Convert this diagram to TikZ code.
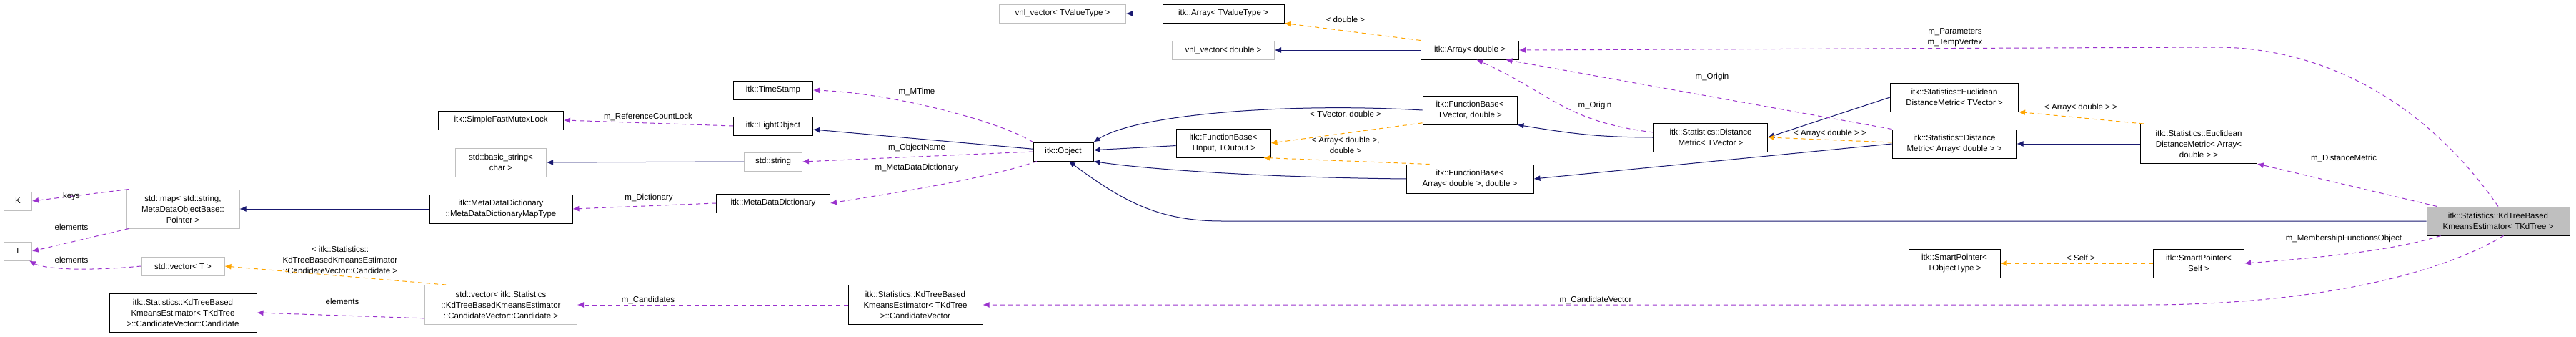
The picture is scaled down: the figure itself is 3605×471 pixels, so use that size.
\documentclass[tikz,border=0pt]{standalone}
\usepackage{fontspec}
\setmainfont{Liberation Sans}
\usetikzlibrary{arrows.meta}

\begin{document}
\begin{tikzpicture}[x=1pt, y=-1pt, font=\fontsize{11.5}{15}\selectfont]
        \tikzstyle{cls} = [draw=black, line width=1pt, rectangle, inner sep=0pt, align=center]
        \tikzstyle{ext} = [cls, draw=black!25]
        \tikzstyle{inherit} = [-{Latex[length=9pt,width=8pt]}, line width=1pt, color={rgb,255:red,25;green,25;blue,112}]
        \tikzstyle{templ} = [-{Latex[length=9pt,width=8pt]}, dash pattern=on 6pt off 5pt, line width=1pt, color={rgb,255:red,255;green,165;blue,0}]
        \tikzstyle{usage} = [-{Latex[length=9pt,width=8pt]}, dash pattern=on 6pt off 5pt, line width=1pt, color={rgb,255:red,154;green,50;blue,205}]
        \tikzstyle{lbl} = [align=center, inner sep=0pt]
        \useasboundingbox (0,0) rectangle (3605,471);
        % left part
        \node[ext, minimum width=39pt, minimum height=26pt] (K) at (25,281) {K};
        \node[ext, minimum width=39pt, minimum height=26pt] (T) at (25,351) {T};
        \node[ext, minimum width=158pt, minimum height=54pt] (map) at (256,292) {std::map< std::string,\\ MetaDataObjectBase::\\Pointer >};
        \node[ext, minimum width=116pt, minimum height=26pt] (vecT) at (256,372) {std::vector< T >};
        \node[cls, minimum width=206pt, minimum height=54pt] (cand) at (256,437) {itk::Statistics::KdTreeBased\\KmeansEstimator< TKdTree\\>::CandidateVector::Candidate};
        \node[cls, minimum width=175pt, minimum height=26pt] (mutex) at (701,168) {itk::SimpleFastMutexLock};
        \node[ext, minimum width=127pt, minimum height=40pt] (bstr) at (701,227) {std::basic\_string<\\char >};
        \node[cls, minimum width=200pt, minimum height=40pt] (maptype) at (701,292) {itk::MetaDataDictionary\\::MetaDataDictionaryMapType};
        \node[ext, minimum width=213pt, minimum height=55pt] (veccand) at (701,426) {std::vector< itk::Statistics\\::KdTreeBasedKmeansEstimator\\::CandidateVector::Candidate >};
        \node[cls, minimum width=111pt, minimum height=26pt] (tstamp) at (1082,126) {itk::TimeStamp};
        \node[cls, minimum width=111pt, minimum height=26pt] (light) at (1082,176) {itk::LightObject};
        \node[ext, minimum width=81pt, minimum height=26pt] (sstr) at (1082,226) {std::string};
        \node[cls, minimum width=159pt, minimum height=26pt] (mdd) at (1082,284) {itk::MetaDataDictionary};
        \node[cls, minimum width=188pt, minimum height=55pt] (candvec) at (1281,426) {itk::Statistics::KdTreeBased\\KmeansEstimator< TKdTree\\>::CandidateVector};
        \node[cls, minimum width=84pt, minimum height=26pt] (object) at (1488,212) {itk::Object};
        % middle part
        \node[ext, minimum width=177pt, minimum height=26pt] (vnlT) at (1487,19) {vnl\_vector< TValueType >};
        \node[cls, minimum width=170pt, minimum height=26pt] (arrT) at (1712,19) {itk::Array< TValueType >};
        \node[ext, minimum width=143pt, minimum height=26pt] (vnlD) at (1712,70) {vnl\_vector< double >};
        \node[cls, minimum width=137pt, minimum height=26pt] (arrD) at (2057,70) {itk::Array< double >};
        \node[cls, minimum width=132pt, minimum height=40pt] (fbIO) at (1712,200) {itk::FunctionBase<\\TInput, TOutput >};
        \node[cls, minimum width=132pt, minimum height=40pt] (fbTV) at (2057,154) {itk::FunctionBase<\\TVector, double >};
        \node[cls, minimum width=178pt, minimum height=40pt] (fbAD) at (2057,250) {itk::FunctionBase<\\Array< double >, double >};
        \node[cls, minimum width=159pt, minimum height=40pt] (dmTV) at (2394,192) {itk::Statistics::Distance\\Metric< TVector >};
        % right part
        \node[cls, minimum width=179pt, minimum height=40pt] (eucTV) at (2735,136) {itk::Statistics::Euclidean\\DistanceMetric< TVector >};
        \node[cls, minimum width=174pt, minimum height=40pt] (dmAD) at (2735,201) {itk::Statistics::Distance\\Metric< Array< double > >};
        \node[cls, minimum width=128pt, minimum height=40pt] (spT) at (2735,368) {itk::SmartPointer<\\TObjectType >};
        \node[cls, minimum width=163pt, minimum height=55pt] (eucAD) at (3077,201) {itk::Statistics::Euclidean\\DistanceMetric< Array<\\double > >};
        \node[cls, minimum width=127pt, minimum height=40pt] (spS) at (3077,368) {itk::SmartPointer<\\Self >};
        \node[cls, fill=black!25, minimum width=200pt, minimum height=40pt] (kd) at (3496,309) {itk::Statistics::KdTreeBased\\KmeansEstimator< TKdTree >};
        % inheritance
        \draw[inherit] (arrT.west) -- (vnlT.east);
        \draw[inherit] (arrD.west) -- (vnlD.east);
        \draw[inherit] (object) -- (light);
        \draw[inherit] (sstr.west) -- (bstr.east);
        \draw[inherit] (maptype.west) -- (map.east);
        \draw[inherit] (fbIO) -- (object);
        \draw[inherit] (fbTV.west) .. controls (1800,143) and (1590,160) .. (object.north east);
        \draw[inherit] (fbAD.west) .. controls (1760,248) and (1600,236) .. (object.south east);
        \draw[inherit] (kd.west) -- (1710,309) .. controls (1620,309) and (1570,280) .. (object.-60);
        \draw[inherit] (dmTV.west) .. controls (2230,192) and (2190,185) .. (fbTV.south east);
        \draw[inherit] (dmAD.west) -- (fbAD.east);
        \draw[inherit] (eucTV.west) -- (dmTV.east);
        \draw[inherit] (eucAD.west) -- (dmAD.east);
        % templates
        \draw[templ] (arrD.north west) -- (arrT.south east);
        \draw[templ] (fbTV.-165) -- (fbIO.east);
        \draw[templ] (fbAD.160) -- (fbIO.-20);
        \draw[templ] (dmAD.west) ++(0,-2) -- (dmTV.east);
        \draw[templ] (eucAD.160) -- (eucTV.south east);
        \draw[templ] (veccand.160) -- (vecT.east);
        \draw[templ] (spS.west) -- (spT.east);
        % usage
        \draw[usage] (light.west) -- (mutex.east);
        \draw[usage] (object.north west) .. controls (1400,170) and (1250,130) .. (tstamp.east);
        \draw[usage] (object.west) -- (sstr.east);
        \draw[usage] (object.-160) .. controls (1380,250) and (1250,270) .. (mdd.east);
        \draw[usage] (mdd.west) -- (maptype.east);
        \draw[usage] (map.160) -- (K.east);
        \draw[usage] (map.-160) -- (T.east);
        \draw[usage] (vecT.west) .. controls (110,380) and (60,375) .. (T.-40);
        \draw[usage] (veccand.-170) -- (cand.east);
        \draw[usage] (candvec.west) -- (veccand.east);
        \draw[usage] (kd.-70) .. controls (3420,380) and (3250,426) .. (3000,426) -- (candvec.east);
        \draw[usage] (kd.north) .. controls (3400,150) and (3260,66) .. (3100,66) -- (arrD.east);
        \draw[usage] (dmTV.west) ++(0,-7) .. controls (2190,170) and (2170,130) .. (arrD.-55);
        \draw[usage] (dmAD.north west) -- (arrD.-15);
        \draw[usage] (kd.north west) ++(15,0) -- (eucAD.south east);
        \draw[usage] (kd.south west) ++(20,0) .. controls (3350,350) and (3250,360) .. (spS.east);
        % labels
        \node[lbl] (lKeys) at (100,275) {keys};
        \node[lbl] (lElT) at (100,317) {elements};
        \node[lbl] (lElV) at (100,363) {elements};
        \node[lbl] (lVecCand) at (476,363) {< itk::Statistics::\\KdTreeBasedKmeansEstimator\\::CandidateVector::Candidate >};
        \node[lbl] (lElC) at (479,421) {elements};
        \node[lbl] (lLock) at (907,163) {m\_ReferenceCountLock};
        \node[lbl] (lDict) at (908,277) {m\_Dictionary};
        \node[lbl] (lCands) at (907,419) {m\_Candidates};
        \node[lbl] (lMTime) at (1283,128) {m\_MTime};
        \node[lbl] (lName) at (1283,207) {m\_ObjectName};
        \node[lbl] (lMDD) at (1283,235) {m\_MetaDataDictionary};
        \node[lbl] (lDouble) at (1883,27) {< double >};
        \node[lbl] (lTV) at (1883,160) {< TVector, double >};
        \node[lbl] (lAD) at (1883,203) {< Array< double >,\\double >};
        \node[lbl] (lOrigin) at (2396,108) {m\_Origin};
        \node[lbl] (lOrigin2) at (2232,148) {m\_Origin};
        \node[lbl] (lArrDm) at (2561,187) {< Array< double > >};
        \node[lbl] (lCandVec) at (2233,419) {m\_CandidateVector};
        \node[lbl] (lParams) at (2736,52) {m\_Parameters\\m\_TempVertex};
        \node[lbl] (lArrEuc) at (2912,151) {< Array< double > >};
        \node[lbl] (lDist) at (3280,221) {m\_DistanceMetric};
        \node[lbl] (lMember) at (3280,334) {m\_MembershipFunctionsObject};
        \node[lbl] (lSelf) at (2912,360) {< Self >};
\end{tikzpicture}
\end{document}
